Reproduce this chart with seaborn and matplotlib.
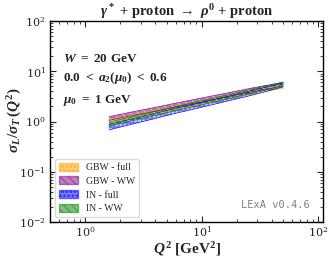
import numpy as np
import pandas as pd
import matplotlib
matplotlib.use("Agg")
import matplotlib.pyplot as plt
import seaborn as sns
from matplotlib.patches import Patch

sns.set_style("ticks")
plt.rcParams["font.family"] = ["DejaVu Serif"]
plt.rcParams["mathtext.fontset"] = "cm"
plt.rcParams["mathtext.rm"] = "Liberation Serif:bold"
plt.rcParams["mathtext.it"] = "Liberation Serif:italic:bold"
plt.rcParams["mathtext.bf"] = "Liberation Serif:bold"
plt.rcParams["mathtext.sf"] = "Liberation Serif:bold"
plt.rcParams["hatch.linewidth"] = 0.8

Q2 = [1.6, 2.5, 4, 6, 10, 16, 25, 35, 50]
gbw_full_lo = [0.93, 1.15, 1.43, 1.75, 2.2, 2.75, 3.4, 3.95, 4.6]
gbw_full_hi = [1.10, 1.36, 1.68, 2.05, 2.6, 3.2, 3.95, 4.6, 5.3]
gbw_ww_lo = [1.05, 1.30, 1.60, 1.95, 2.45, 3.05, 3.75, 4.35, 5.0]
gbw_ww_hi = [1.25, 1.55, 1.92, 2.33, 2.95, 3.65, 4.5, 5.2, 6.0]
in_full_lo = [0.68, 0.88, 1.15, 1.46, 1.92, 2.5, 3.2, 3.9, 4.9]
in_full_hi = [0.88, 1.13, 1.46, 1.85, 2.4, 3.1, 3.95, 4.8, 5.9]
in_ww_lo = [0.80, 1.03, 1.32, 1.66, 2.15, 2.75, 3.5, 4.25, 5.2]
in_ww_hi = [0.98, 1.25, 1.60, 2.0, 2.6, 3.3, 4.2, 5.1, 6.1]

labels = ["GBW - full", "GBW - WW", "IN - full", "IN - WW"]
colors = ["orange", "purple", "blue", "green"]
hatches = ["oooo", "\\\\\\\\", "oooo", "\\\\\\\\"]
bands = [(gbw_full_lo, gbw_full_hi), (gbw_ww_lo, gbw_ww_hi),
         (in_full_lo, in_full_hi), (in_ww_lo, in_ww_hi)]

fig, ax = plt.subplots(figsize=(3.29, 2.60), dpi=100)
fig.subplots_adjust(left=0.152, right=0.982, top=0.919, bottom=0.146)

handles = []
for lab, col, h, (lo, hi) in zip(labels, colors, hatches, bands):
    df = pd.DataFrame({"Q2": Q2, "lo": lo, "hi": hi})
    ax.fill_between(df["Q2"], df["lo"], df["hi"], facecolor=col, alpha=0.55,
                    edgecolor=col, hatch=h, linewidth=0)
    ax.fill_between(df["Q2"], df["lo"], df["hi"], facecolor="none",
                    edgecolor="white", hatch=h, linewidth=0, alpha=0.7)
    sns.lineplot(x=df["Q2"], y=df["lo"], color=col, lw=0.4, ax=ax)
    sns.lineplot(x=df["Q2"], y=df["hi"], color=col, lw=0.4, ax=ax)
    handles.append(Patch(facecolor=col, alpha=0.5, edgecolor=col, hatch=h,
                         label=lab))

ax.set_xscale("log")
ax.set_yscale("log")
ax.set_xlim(0.5, 110)
ax.set_ylim(1e-2, 1e2)

ax.tick_params(which="both", direction="in", top=True, right=True, labelsize=8, pad=3)
ax.tick_params(axis="x", which="both", pad=2)
ax.tick_params(which="major", length=4, width=0.8)
ax.tick_params(which="minor", length=2, width=0.6)
for s in ax.spines.values():
    s.set_linewidth(1.0)
    s.set_color("black")

ax.set_xlabel(r"$Q^2\ \mathrm{[GeV^2]}$", fontsize=11, math_fontfamily="custom")
ax.set_ylabel(r"$\sigma_L/\sigma_T\,(Q^2)$", fontsize=11, math_fontfamily="custom")
ax.xaxis.set_label_coords(0.5, -0.092)
ax.yaxis.set_label_coords(-0.095, 0.507)
ax.set_title(r"$\gamma^*\ \mathrm{+\ proton}\ \rightarrow\ \rho^0\ \mathrm{+\ proton}$",
             fontsize=10.5, pad=4, math_fontfamily="custom")

kw = dict(transform=ax.transAxes, fontsize=9.5, va="center", math_fontfamily="custom")
ax.text(0.048, 0.816, r"$W\ \mathrm{=\ 20\ GeV}$", **kw)
ax.text(0.048, 0.716, r"$\mathrm{0.0\ <}\ a_2(\mu_0)\ \mathrm{<\ 0.6}$", **kw)
ax.text(0.048, 0.607, r"$\mu_0\ \mathrm{=\ 1\ GeV}$", **kw)
ax.text(0.95, 0.07, "LExA v0.4.6", transform=ax.transAxes, fontsize=7.5,
        family="DejaVu Sans Mono", color="gray", ha="right")

leg = ax.legend(handles=handles, loc="lower left", frameon=True,
                handlelength=2.0, handleheight=0.9, borderpad=0.4, labelspacing=0.45,
                framealpha=0.8, edgecolor="lightgray", fancybox=True,
                prop={"family": "Liberation Serif", "size": 7})
fig.savefig("out.png", dpi=100)
